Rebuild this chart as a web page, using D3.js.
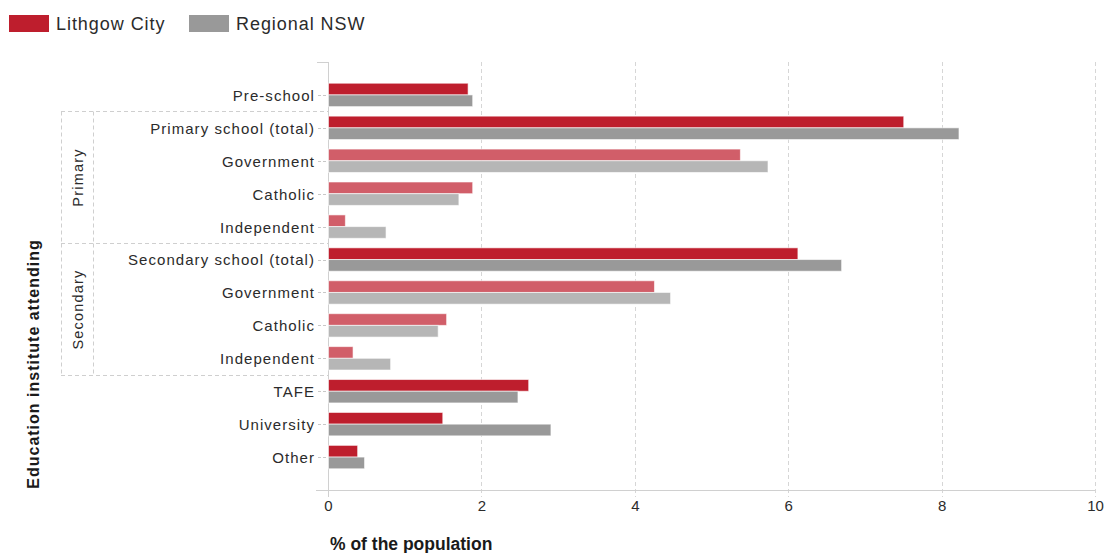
<!DOCTYPE html>
<html>
<head>
<meta charset="utf-8">
<script src="https://cdn.jsdelivr.net/npm/d3@7"></script>
<style>
  html, body { margin: 0; padding: 0; background: #fff; }
  svg { display: block; }
</style>
</head>
<body>
<svg id="chart" width="1110" height="553"></svg>
<script>
const categories = ["Pre-school", "Primary school (total)", "Government", "Catholic", "Independent",
  "Secondary school (total)", "Government", "Catholic", "Independent", "TAFE", "University", "Other"];
const isSubItem = [false, false, true, true, true, false, true, true, true, false, false, false];
const lithgow = [1.82, 7.50, 5.37, 1.88, 0.22, 6.12, 4.25, 1.54, 0.32, 2.61, 1.49, 0.38];
const regional = [1.88, 8.22, 5.73, 1.70, 0.75, 6.69, 4.46, 1.43, 0.81, 2.47, 2.90, 0.47];
const seriesNames = ["Lithgow City", "Regional NSW"];
const xTicks = [0, 2, 4, 6, 8, 10];
const groups = [{name: "Primary", from: 1, to: 4}, {name: "Secondary", from: 5, to: 8}];

(function () {
const svg = d3.select("#chart");
const font = "Arial, 'Liberation Sans', sans-serif";
const narrow = "'Liberation Sans Narrow', 'Arial Narrow', Arial, sans-serif";
const textColor = "#2b2b2b";
const colors = {
  main: ["#be1e2d", "#999999"],
  sub: ["#d15e69", "#b6b6b6"]
};

const pLeft = 328, pRight = 1095, pTop = 62, pBottom = 490;
const x = d3.scaleLinear().domain([0, 10]).range([pLeft, pRight]);
const idx = d3.range(categories.length);
const y = d3.scalePoint().domain(idx).range([pTop, pBottom]).padding(1);
const step = y.step();
const barH = 11.7;

// gridlines
svg.append("g").selectAll("line").data(xTicks.filter(d => d > 0)).join("line")
  .attr("x1", d => Math.round(x(d)) + 0.5).attr("x2", d => Math.round(x(d)) + 0.5)
  .attr("y1", pTop).attr("y2", pBottom + 7)
  .attr("stroke", "#d6d6d6").attr("stroke-width", 1).attr("stroke-dasharray", "4,3");

// x axis
const xAxis = d3.axisBottom(x).tickValues(xTicks).tickSize(0).tickFormat(d3.format("d"));
const gx = svg.append("g").attr("transform", `translate(0,${pBottom})`).call(xAxis);
gx.select(".domain").remove();
gx.append("line").attr("x1", pLeft - 12).attr("x2", pRight).attr("y1", 0.5).attr("y2", 0.5)
  .attr("stroke", "#d0d0d0");
gx.selectAll(".tick text").attr("fill", textColor).attr("font-family", narrow)
  .attr("font-size", 15).attr("y", 10).attr("dy", "0.71em");

// y axis line
svg.append("line").attr("x1", pLeft + 0.5).attr("x2", pLeft + 0.5).attr("y1", pTop).attr("y2", pBottom + 7)
  .attr("stroke", "#d0d0d0");
svg.append("line").attr("x1", pLeft - 11).attr("x2", pLeft).attr("y1", pTop + 0.5).attr("y2", pTop + 0.5)
  .attr("stroke", "#d0d0d0");

// category ticks and labels
const gy = svg.append("g");
gy.selectAll("line").data(idx).join("line")
  .attr("x1", pLeft - 10).attr("x2", pLeft)
  .attr("y1", d => Math.round(y(d)) + 0.5).attr("y2", d => Math.round(y(d)) + 0.5)
  .attr("stroke", "#c8c8c8").attr("stroke-dasharray", "3,2");
gy.selectAll("text").data(idx).join("text")
  .attr("x", pLeft - 13).attr("y", d => y(d) + 0.5).attr("dy", "0.36em")
  .attr("text-anchor", "end").attr("fill", textColor)
  .attr("font-family", font).attr("font-size", 15).attr("letter-spacing", 1.05)
  .text(d => categories[d]);

// group boxes
const boxLeft = 61, boxMid = 93;
const gg = svg.append("g");
const boundaries = [];
groups.forEach(g => {
  const y0 = Math.round(y(g.from) - step / 2) + 0.5, y1 = Math.round(y(g.to) + step / 2) + 0.5;
  boundaries.push(y0, y1);
  gg.append("line").attr("x1", boxLeft + 0.5).attr("x2", boxLeft + 0.5).attr("y1", y0).attr("y2", y1)
    .attr("stroke", "#cfcfcf").attr("stroke-dasharray", "4,3");
  gg.append("line").attr("x1", boxMid + 0.5).attr("x2", boxMid + 0.5).attr("y1", y0).attr("y2", y1)
    .attr("stroke", "#cfcfcf").attr("stroke-dasharray", "4,3");
  gg.append("text")
    .attr("transform", `translate(${(boxLeft + boxMid) / 2 + 1},${(y0 + y1) / 2}) rotate(-90)`)
    .attr("text-anchor", "middle").attr("dy", "0.36em")
    .attr("fill", textColor).attr("font-family", font).attr("font-size", 14.5)
    .attr("letter-spacing", 1.2)
    .text(g.name);
});
Array.from(new Set(boundaries)).forEach(b => {
  gg.append("line").attr("x1", boxLeft).attr("x2", pLeft).attr("y1", b).attr("y2", b)
    .attr("stroke", "#cfcfcf").attr("stroke-dasharray", "4,3");
});

// bars
const gb = svg.append("g");
[lithgow, regional].forEach((vals, s) => {
  gb.selectAll(null).data(idx).join("rect")
    .attr("x", x(0) + 0.5)
    .attr("y", d => y(d) - (s === 0 ? barH : 0))
    .attr("width", d => x(vals[d]) - x(0))
    .attr("height", barH)
    .attr("fill", d => (isSubItem[d] ? colors.sub : colors.main)[s])
    .attr("stroke", "rgba(255,255,255,0.6)").attr("stroke-width", 1);
});

// legend
const lg = svg.append("g");
const legendX = [9, 189];
seriesNames.forEach((n, i) => {
  lg.append("rect").attr("x", legendX[i]).attr("y", 15).attr("width", 40).attr("height", 17)
    .attr("fill", colors.main[i]);
  lg.append("text").attr("x", legendX[i] + 47).attr("y", 23.5).attr("dy", "0.36em")
    .attr("fill", textColor).attr("font-family", font).attr("font-size", 18)
    .attr("letter-spacing", 0.95).text(n);
});

// axis titles
svg.append("text").attr("x", 330).attr("y", 544).attr("dy", "0.36em")
  .attr("fill", "#1a1a1a").attr("font-family", narrow).attr("font-weight", "bold")
  .attr("font-size", 17.5).text("% of the population");
svg.append("text")
  .attr("transform", "translate(33,364) rotate(-90)")
  .attr("text-anchor", "middle").attr("dy", "0.36em")
  .attr("fill", "#1a1a1a").attr("font-family", font).attr("font-weight", "bold")
  .attr("font-size", 16).attr("letter-spacing", 1).text("Education institute attending");
})();
</script>
</body>
</html>
